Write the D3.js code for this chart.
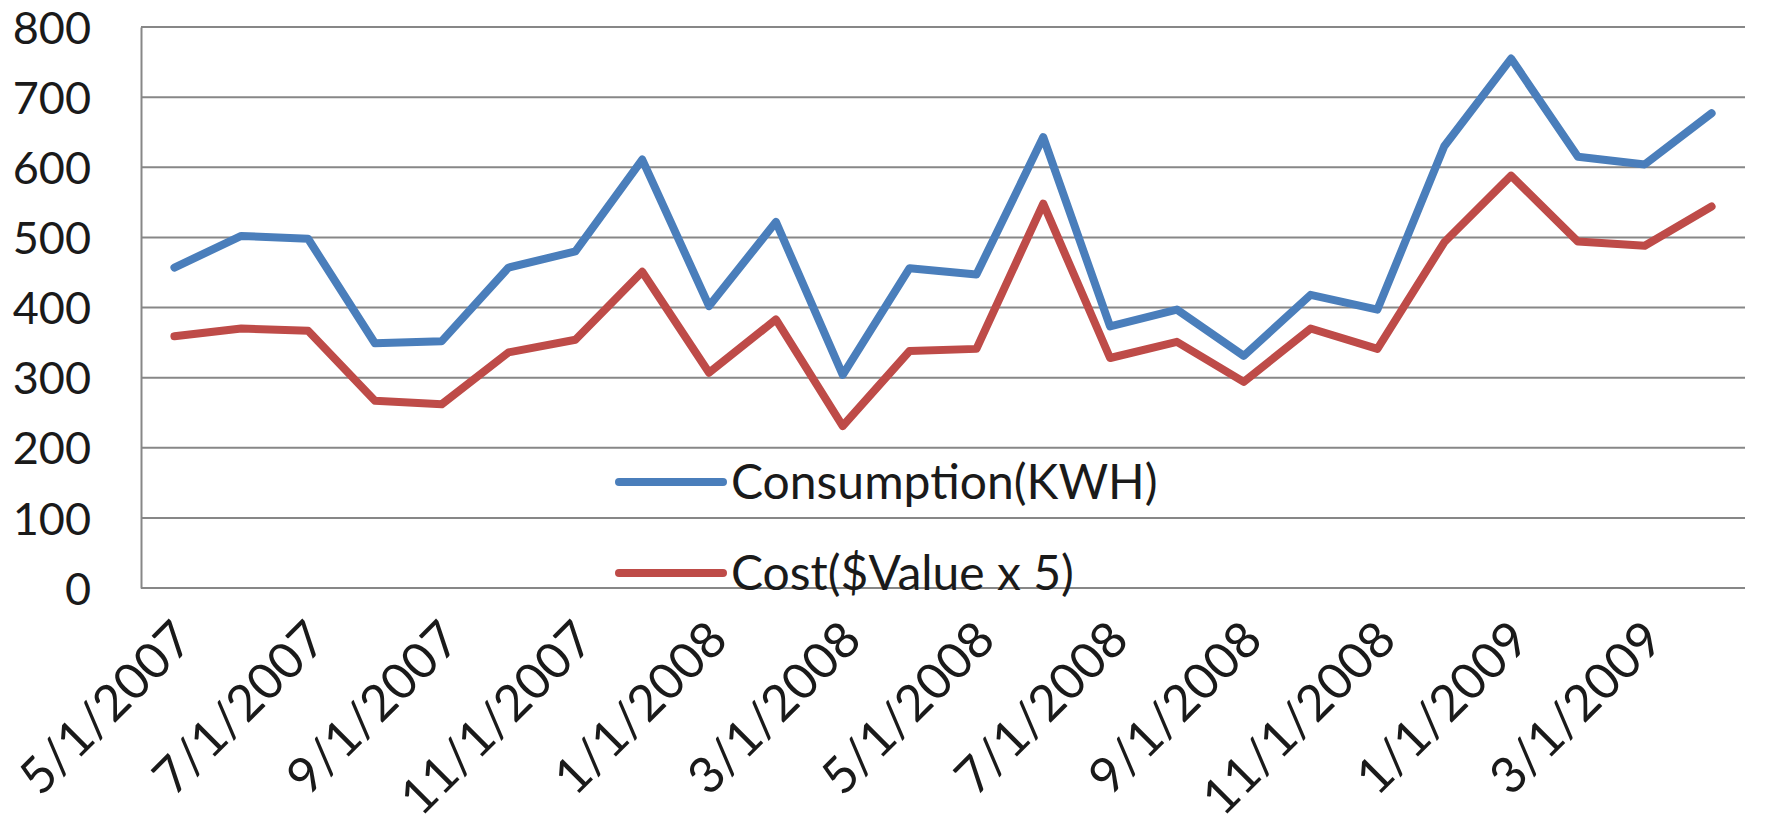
<!DOCTYPE html>
<html>
<head>
<meta charset="utf-8">
<script src="https://cdn.jsdelivr.net/npm/d3@7"></script>
<style>
  body { margin: 0; background: #fff; }
  text { font-family: Lato, "Open Sans", sans-serif; fill: #1a1a1a; }
</style>
</head>
<body>
<div id="chart"></div>
<script>
var months = ["5/1/2007","6/1/2007","7/1/2007","8/1/2007","9/1/2007","10/1/2007","11/1/2007","12/1/2007",
              "1/1/2008","2/1/2008","3/1/2008","4/1/2008","5/1/2008","6/1/2008","7/1/2008","8/1/2008",
              "9/1/2008","10/1/2008","11/1/2008","12/1/2008","1/1/2009","2/1/2009","3/1/2009","4/1/2009"];
var consumption = [457,502,498,349,352,457,480,611,402,522,304,456,447,643,373,397,331,418,397,630,755,615,604,677];
var cost = [359,370,367,267,262,336,354,451,307,383,231,338,341,548,328,351,294,370,341,493,588,494,488,544];
var yTicks = [0,100,200,300,400,500,600,700,800];
var seriesNames = ["Consumption(KWH)", "Cost($Value x 5)"];
var seriesColors = ["#4a7ebb", "#be4b48"];

var width = 1777, height = 828;
var plotLeft = 141, plotRight = 1745, plotTop = 27, plotBottom = 588;

var svg = d3.select("#chart").append("svg")
    .attr("width", width)
    .attr("height", height);

var x = d3.scalePoint().domain(months).range([plotLeft, plotRight]).padding(0.5);
var y = d3.scaleLinear().domain([0, 800]).range([plotBottom, plotTop]);

// gridlines
svg.append("g")
    .selectAll("line")
    .data(yTicks)
    .enter()
    .append("line")
    .attr("x1", plotLeft).attr("x2", plotRight)
    .attr("y1", function (d) { return y(d); })
    .attr("y2", function (d) { return y(d); })
    .attr("stroke", "#878787")
    .attr("stroke-width", 2);

// y axis
var yAxis = d3.axisLeft(y).tickValues(yTicks).tickSize(0).tickPadding(50);
var gy = svg.append("g").attr("transform", "translate(" + plotLeft + ",0)").call(yAxis);
gy.select(".domain").attr("stroke", "#878787").attr("stroke-width", 2);
gy.selectAll("text").style("font-size", "45px").attr("fill", "#1a1a1a").attr("dy", "0.36em");

// x axis labels every other month
var xAxis = d3.axisBottom(x)
    .tickValues(months.filter(function (d, i) { return i % 2 === 0; }))
    .tickSize(0);
var gx = svg.append("g").attr("transform", "translate(0," + plotBottom + ")").call(xAxis);
gx.select(".domain").remove();
gx.selectAll("text")
    .style("font-size", "50px")
    .attr("fill", "#1a1a1a")
    .style("text-anchor", "end")
    .attr("dy", "0.35em")
    .attr("transform", "translate(6,40) rotate(-45)");

// lines
var line = d3.line()
    .x(function (d, i) { return x(months[i]); })
    .y(function (d) { return y(d); });

[consumption, cost].forEach(function (vals, k) {
    svg.append("path")
        .datum(vals)
        .attr("d", line)
        .attr("fill", "none")
        .attr("stroke", seriesColors[k])
        .attr("stroke-width", 8)
        .attr("stroke-linejoin", "round")
        .attr("stroke-linecap", "round");
});

// legend
var legendY = [482, 573];
var legend = svg.append("g");
seriesNames.forEach(function (name, k) {
    legend.append("line")
        .attr("x1", 619).attr("x2", 723)
        .attr("y1", legendY[k]).attr("y2", legendY[k])
        .attr("stroke", seriesColors[k])
        .attr("stroke-width", 8)
        .attr("stroke-linecap", "round");
    legend.append("text")
        .attr("x", 731)
        .attr("y", legendY[k])
        .attr("dy", "0.35em")
        .style("font-size", "48px")
        .text(name);
});
</script>
</body>
</html>
